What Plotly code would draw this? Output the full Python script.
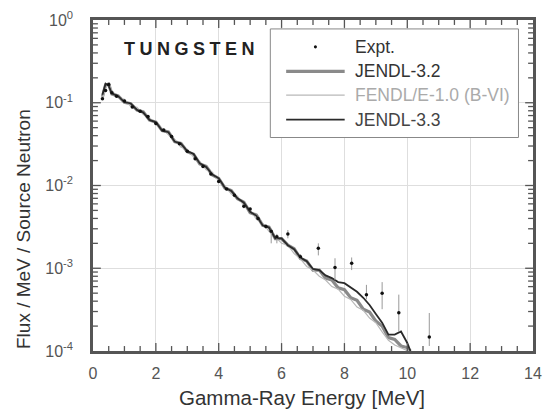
import math
import plotly.graph_objects as go

# ---------------- data ----------------
energy_model = [0.3, 0.4, 0.5, 0.6, 0.8, 1.0, 1.2, 1.4, 1.6, 1.8, 2.0, 2.2, 2.4, 2.6, 2.8,
                3.0, 3.2, 3.4, 3.6, 3.8, 4.0, 4.2, 4.4, 4.6, 4.8, 5.0, 5.2, 5.4, 5.6, 5.8,
                6.0, 6.2, 6.4, 6.6, 6.8, 7.0, 7.2, 7.4, 7.6, 7.8, 8.0, 8.2, 8.4, 8.6, 8.8,
                9.0, 9.2, 9.4, 9.6, 9.8, 10.0, 10.1]

jendl32 = [0.1175, 0.165, 0.168, 0.128, 0.121, 0.101, 0.0975, 0.0815, 0.0775, 0.0615,
           0.0585, 0.0462, 0.0445, 0.0338, 0.0322, 0.0256, 0.0238, 0.0182, 0.0170, 0.0134,
           0.0122, 0.0093, 0.0087, 0.0069, 0.0063, 0.0047, 0.0044, 0.0033, 0.00315, 0.00228,
           0.00228, 0.0019, 0.00172, 0.00131, 0.00122, 0.00095, 0.00095, 0.00076, 0.00072,
           0.00058, 0.00055, 0.00044, 0.00041, 0.00032, 0.000295, 0.00023, 0.0002, 0.000145,
           0.000138, 0.000115, 0.00011, 0.0001]

fendl = [0.11, 0.15, 0.17, 0.14, 0.115, 0.11, 0.09, 0.088, 0.072, 0.066, 0.054, 0.049,
         0.041, 0.036, 0.029, 0.0275, 0.022, 0.0195, 0.0155, 0.0145, 0.0112, 0.0099, 0.0079,
         0.0074, 0.0057, 0.0051, 0.0039, 0.0035, 0.0028, 0.0024, 0.0020, 0.0019, 0.0015,
         0.0013, 0.00105, 0.00095, 0.00080, 0.00072, 0.00060, 0.00056, 0.00046, 0.00042,
         0.00034, 0.00031, 0.00025, 0.00022, 0.00017, 0.000135, 0.000118, 0.000108,
         0.000101, 0.0001]

jendl33 = [0.125, 0.17, 0.16, 0.13, 0.12, 0.102, 0.098, 0.082, 0.076, 0.062, 0.058, 0.046,
           0.044, 0.034, 0.032, 0.026, 0.024, 0.0185, 0.0168, 0.0136, 0.0122, 0.0094, 0.0086,
           0.0070, 0.0062, 0.0048, 0.0043, 0.0033, 0.0031, 0.0023, 0.0023, 0.0019, 0.0017,
           0.00135, 0.00122, 0.00098, 0.00095, 0.00082, 0.00076, 0.00068, 0.00066, 0.00058,
           0.00052, 0.00044, 0.00036, 0.00028, 0.00022, 0.000158, 0.000158, 0.000172,
           0.000125, 0.0001]

energy_expt = [0.3, 0.4, 0.5, 0.6, 0.75, 1.0, 1.25, 1.5, 1.75, 2.0, 2.25, 2.5, 2.75, 3.0,
               3.25, 3.5, 3.75, 4.0, 4.25, 4.5, 4.8, 5.0, 5.25, 5.5, 5.67, 5.85, 6.2, 6.6,
               7.17, 7.7, 8.23, 8.7, 9.2, 9.73, 10.7]
flux_expt = [0.112, 0.141, 0.166, 0.132, 0.120, 0.105, 0.089, 0.079, 0.068, 0.056, 0.047,
             0.039, 0.032, 0.026, 0.021, 0.017, 0.0138, 0.0112, 0.0091, 0.0076, 0.0056,
             0.0052, 0.0040, 0.0032, 0.0028, 0.0024, 0.0026, 0.00138, 0.00174, 0.00102,
             0.00115, 0.00048, 0.0005, 0.00029, 0.000148]
err_plus = [0.004, 0.006, 0.008, 0.005, 0.004, 0.003, 0.003, 0.002, 0.002, 0.002, 0.0015,
            0.0012, 0.001, 0.0008, 0.0007, 0.0006, 0.0005, 0.0004, 0.0003, 0.0003, 0.0003,
            0.0002, 0.0002, 0.0002, 0.0002, 0.0002, 0.0003, 0.0001, 0.00026, 0.0003, 0.0002,
            0.00015, 0.00018, 0.00019, 0.00014]
err_minus = [0.004, 0.006, 0.008, 0.005, 0.004, 0.003, 0.003, 0.002, 0.002, 0.002, 0.0015,
             0.0012, 0.001, 0.0008, 0.0007, 0.0006, 0.0005, 0.0004, 0.0003, 0.0003, 0.0003,
             0.0002, 0.0002, 0.0002, 0.0008, 0.0004, 0.0003, 0.0001, 0.00031, 0.0003, 0.0002,
             0.00006, 0.00018, 0.00012, 0.000033]

x_ticks = [0, 2, 4, 6, 8, 10, 12, 14]
x_minor = [0.5, 1, 1.5, 2.5, 3, 3.5, 4.5, 5, 5.5, 6.5, 7, 7.5, 8.5, 9, 9.5, 10.5, 11, 11.5,
           12.5, 13, 13.5]
y_tickvals = [1e-4, 1e-3, 1e-2, 1e-1, 1]
y_ticktext = ["10<sup>-4</sup>", "10<sup>-3</sup>", "10<sup>-2</sup>", "10<sup>-1</sup>", "10<sup>0</sup>"]
y_minor = [m * 10.0 ** d for d in (-4, -3, -2, -1) for m in range(2, 10)]

legend_names = ["Expt.", "JENDL-3.2", "FENDL/E-1.0 (B-VI)", "JENDL-3.3"]
x_title = "Gamma-Ray Energy [MeV]"
y_title = "Flux / MeV / Source Neutron"
label = "TUNGSTEN"

# ---------------- figure ----------------
FONT = "Liberation Sans, Arial, sans-serif"
c32, cfe, c33 = "#8a8a8a", "#b8b8b8", "#2a2a2a"
TICK = "#555"
W, H = 551, 415
ML, MR, MT, MB = 93, 9, 16, 64
PW, PH = W - ML - MR, H - MT - MB

fig = go.Figure()
fig.add_trace(go.Scatter(x=energy_model, y=jendl32, mode="lines",
                         line=dict(color=c32, width=3.2), name=legend_names[1]))
fig.add_trace(go.Scatter(x=energy_model, y=fendl, mode="lines",
                         line=dict(color=cfe, width=1.2), name=legend_names[2]))
fig.add_trace(go.Scatter(x=energy_model, y=jendl33, mode="lines",
                         line=dict(color=c33, width=1.8), name=legend_names[3]))
fig.add_trace(go.Scatter(x=energy_expt, y=flux_expt, mode="markers",
                         marker=dict(color="#111", size=3.5),
                         error_y=dict(type="data", symmetric=False, array=err_plus,
                                      arrayminus=err_minus, color="#999", thickness=1, width=0),
                         name=legend_names[0]))

axis_common = dict(showline=True, linecolor="#555", linewidth=2.5, mirror=True,
                   ticks="", showgrid=True, gridcolor="#dedede", gridwidth=1, zeroline=False,
                   tickfont=dict(family=FONT, size=16, color="#555"))

fig.update_xaxes(range=[0, 14], tickvals=x_ticks, ticklabelstandoff=6, **axis_common)
fig.update_yaxes(type="log", range=[-4, 0], tickvals=y_tickvals, ticktext=y_ticktext,
                 ticklabelstandoff=14, **axis_common)

shapes = []
# inside tick marks on all four sides, lengths given in pixels converted to paper units
for v, ln in [(t, 8) for t in x_ticks[1:-1]] + [(t, 5) for t in x_minor]:
    f = v / 14.0
    d = ln / PH
    for y0, y1 in ((0, d), (1, 1 - d)):
        shapes.append(dict(type="line", xref="paper", yref="paper", x0=f, x1=f, y0=y0, y1=y1,
                           line=dict(color=TICK, width=1.3), layer="above"))
for v, ln in [(t, 8) for t in y_tickvals[1:-1]] + [(t, 5) for t in y_minor]:
    f = (math.log10(v) + 4) / 4
    d = ln / PW
    for x0, x1 in ((0, d), (1, 1 - d)):
        shapes.append(dict(type="line", xref="paper", yref="paper", x0=x0, x1=x1, y0=f, y1=f,
                           line=dict(color=TICK, width=1.3), layer="above"))

# manual legend (paper coordinates)
shapes.append(dict(type="rect", xref="paper", yref="paper", x0=0.403, x1=0.967, y0=0.645, y1=0.973,
                   line=dict(color="#888", width=1), fillcolor="white", layer="above"))
ys = [0.919, 0.845, 0.773, 0.699]
shapes.append(dict(type="line", xref="paper", yref="paper", x0=0.439, x1=0.572, y0=ys[1], y1=ys[1],
                   line=dict(color=c32, width=3.2), layer="above"))
shapes.append(dict(type="line", xref="paper", yref="paper", x0=0.439, x1=0.572, y0=ys[2], y1=ys[2],
                   line=dict(color=cfe, width=1.2), layer="above"))
shapes.append(dict(type="line", xref="paper", yref="paper", x0=0.439, x1=0.572, y0=ys[3], y1=ys[3],
                   line=dict(color=c33, width=1.8), layer="above"))
shapes.append(dict(type="circle", xref="paper", yref="paper", x0=0.502, x1=0.509, y0=ys[0] - 0.005,
                   y1=ys[0] + 0.005, fillcolor="#111", line=dict(width=0), layer="above"))

text_colors = ["#333", "#333", "#aaa", "#444"]
annotations = []
for name, yv, col in zip(legend_names, ys, text_colors):
    annotations.append(dict(text=name, xref="paper", yref="paper", x=0.592, y=yv, xanchor="left",
                            yanchor="middle", showarrow=False,
                            font=dict(family=FONT, size=17.5, color=col)))
annotations.append(dict(text='<span style="letter-spacing:4.5px;font-weight:bold">' + label + '</span>',
                        xref="paper", yref="paper", x=0.067, y=0.913, xanchor="left", yanchor="middle",
                        showarrow=False, font=dict(family=FONT, size=18, color="#222")))
annotations.append(dict(text=x_title, xref="paper", yref="paper", x=0.474, y=-0.140,
                        xanchor="center", yanchor="middle", showarrow=False,
                        font=dict(family=FONT, size=20.5, color="#333")))
annotations.append(dict(text=y_title, xref="paper", yref="paper", x=-0.158, y=0.37,
                        xanchor="center", yanchor="middle", showarrow=False, textangle=-90,
                        font=dict(family=FONT, size=19, color="#333")))

fig.update_layout(width=W, height=H, margin=dict(l=ML, r=MR, t=MT, b=MB),
                  plot_bgcolor="white", paper_bgcolor="white", showlegend=False,
                  shapes=shapes, annotations=annotations)

fig.write_html("out.html")
